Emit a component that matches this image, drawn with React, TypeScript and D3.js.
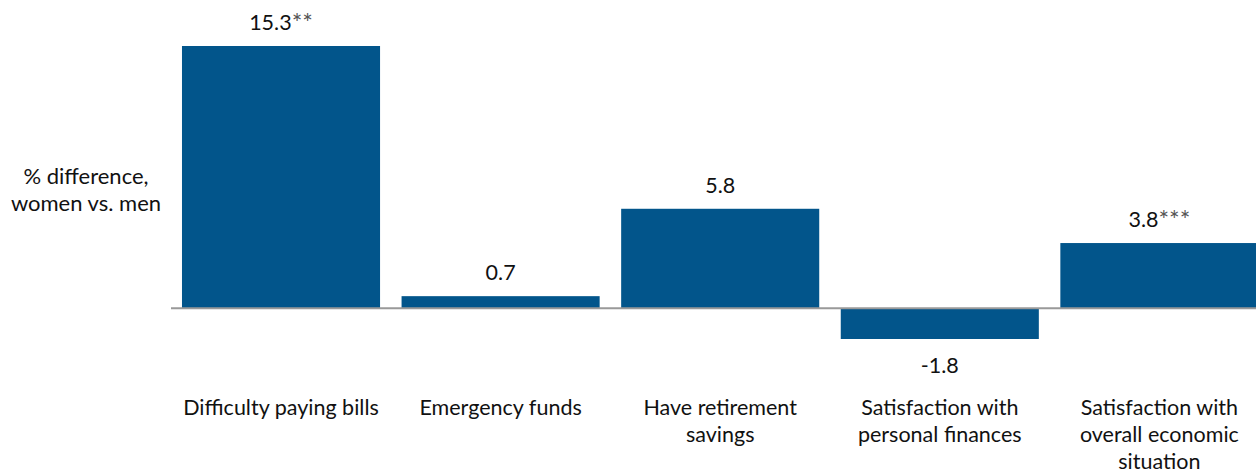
import React from "react";
import * as d3 from "d3";

const categories: string[][] = [
  ["Difficulty paying bills"],
  ["Emergency funds"],
  ["Have retirement", "savings"],
  ["Satisfaction with", "personal finances"],
  ["Satisfaction with", "overall economic", "situation"],
];
const values: number[] = [15.3, 0.7, 5.8, -1.8, 3.8];
const valueLabels: string[] = ["15.3", "0.7", "5.8", "-1.8", "3.8"];
const significance: string[] = ["**", "", "", "", "***"];
const axisTitle: string[] = ["% difference,", "women vs. men"];

const W = 1256;
const H = 472;
const FONT = "Lato, 'Open Sans', sans-serif";
const BAR = "#02558B";
const FS = 21.5;

export default function App() {
  const keys = categories.map((_, i) => String(i));
  const x = d3
    .scaleBand<string>()
    .domain(keys)
    .range([171, 1269.4])
    .paddingInner(0.098)
    .paddingOuter(0.05);
  const [mn, mx] = d3.extent(values) as [number, number];
  const y = d3.scaleLinear().domain([mn, mx]).range([339, 46]);
  const y0 = y(0);

  return (
    <svg
      width={W}
      height={H}
      style={{ position: "absolute", left: 0, top: 0, background: "#fff" }}
      fontFamily={FONT}
    >
      {values.map((v, i) => {
        const bx = x(String(i))!;
        const top = Math.min(y(v), y0);
        const h = Math.abs(y(v) - y0);
        return <rect key={i} x={bx} y={top} width={x.bandwidth()} height={h} fill={BAR} />;
      })}
      <line x1={171} x2={W} y1={y0} y2={y0} stroke="#999" strokeWidth={2} />
      {values.map((v, i) => {
        const cx = x(String(i))! + x.bandwidth() / 2;
        const ty = v >= 0 ? y(v) - 16 : y(v) + 34;
        return (
          <text key={i} x={cx} y={ty} textAnchor="middle" fontSize={FS} fill="#111">
            {valueLabels[i]}
            {significance[i] && (
              <tspan fill="#555" fontSize={25} dy={2}>
                {significance[i]}
              </tspan>
            )}
          </text>
        );
      })}
      {categories.map((lines, i) => {
        const cx = x(String(i))! + x.bandwidth() / 2;
        return (
          <text key={i} x={cx} y={415} textAnchor="middle" fontSize={FS} fill="#111">
            {lines.map((l, j) => (
              <tspan key={j} x={cx} dy={j === 0 ? 0 : 27}>
                {l}
              </tspan>
            ))}
          </text>
        );
      })}
      <text x={86} y={184} textAnchor="middle" fontSize={22} fill="#111">
        {axisTitle.map((l, j) => (
          <tspan key={j} x={86} dy={j === 0 ? 0 : 27}>
            {l}
          </tspan>
        ))}
      </text>
    </svg>
  );
}
